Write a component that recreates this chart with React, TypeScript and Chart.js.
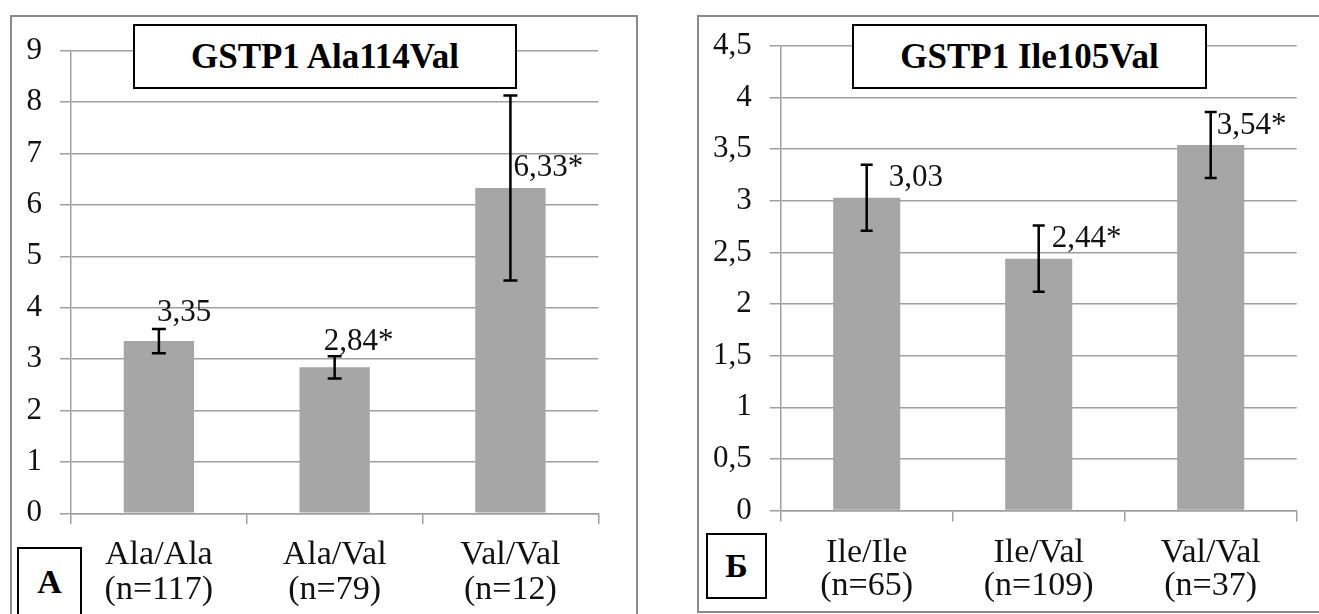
import React, { useEffect, useRef } from 'react';
import { Chart, registerables } from 'chart.js';

Chart.register(...registerables);

const FONT = "'Liberation Serif'";
Chart.defaults.font.family = FONT;

// ---- Data: panel A (GSTP1 Ala114Val) ----
const titleA = 'GSTP1 Ala114Val';
const letterA = 'А';
const categoriesA = [['Ala/Ala', '(n=117)'], ['Ala/Val', '(n=79)'], ['Val/Val', '(n=12)']];
const valuesA = [3.35, 2.84, 6.33];
const errorsA = [0.235, 0.215, 1.8];
const valueLabelsA = ['3,35', '2,84*', '6,33*'];
const yMaxA = 9;
const yStepA = 1;

// ---- Data: panel Б (GSTP1 Ile105Val) ----
const titleB = 'GSTP1 Ile105Val';
const letterB = 'Б';
const categoriesB = [['Ile/Ile', '(n=65)'], ['Ile/Val', '(n=109)'], ['Val/Val', '(n=37)']];
const valuesB = [3.03, 2.44, 3.54];
const errorsB = [0.32, 0.32, 0.32];
const valueLabelsB = ['3,03', '2,44*', '3,54*'];
const yMaxB = 4.5;
const yStepB = 0.5;

const GRID = '#a0a0a0';
const BAR = '#a6a6a6';

const extrasPlugin = {
  id: 'barExtras',
  afterDatasetsDraw(chart: any, _args: any, opts: any) {
    const meta = chart.getDatasetMeta(0);
    const ys = chart.scales.y;
    const ctx = chart.ctx;
    ctx.save();
    meta.data.forEach((bar: any, i: number) => {
      const v = opts.values[i];
      const e = opts.errors[i];
      const x = bar.x;
      const yt = ys.getPixelForValue(v + e);
      const yb = ys.getPixelForValue(v - e);
      ctx.fillStyle = '#111';
      ctx.font = `31px ${FONT}`;
      ctx.textAlign = 'left';
      ctx.textBaseline = 'alphabetic';
      ctx.fillText(opts.labels[i], x + opts.dx[i], bar.y - opts.dy[i]);
      const cap = opts.cap;
      ctx.strokeStyle = '#000';
      ctx.lineWidth = 2.5;
      ctx.beginPath();
      ctx.moveTo(x, yt);
      ctx.lineTo(x, yb);
      ctx.moveTo(x - cap, yt);
      ctx.lineTo(x + cap, yt);
      ctx.moveTo(x - cap, yb);
      ctx.lineTo(x + cap, yb);
      ctx.stroke();
    });
    ctx.restore();
  },
};

type PanelProps = {
  categories: string[][];
  values: number[];
  errors: number[];
  labels: string[];
  yMax: number;
  yStep: number;
  width: number;
  height: number;
  padTop: number;
  padRight: number;
  yWidth: number;
  xHeight: number;
  barPct: number;
  xPad: number;
  lineHeight: number;
  dx: number[];
  dy: number[];
  cap: number;
};

function BarChart(p: PanelProps) {
  const ref = useRef<HTMLCanvasElement | null>(null);
  useEffect(() => {
    if (!ref.current) return;
    const chart = new Chart(ref.current, {
      type: 'bar',
      data: {
        labels: p.categories,
        datasets: [
          {
            data: p.values,
            backgroundColor: BAR,
            borderWidth: 0,
            barPercentage: p.barPct,
            categoryPercentage: 1,
          },
        ],
      },
      options: {
        animation: false,
        responsive: false,
        layout: { padding: { top: p.padTop, right: p.padRight, left: 0, bottom: 0 } },
        plugins: {
          legend: { display: false },
          tooltip: { enabled: false },
          barExtras: {
            values: p.values,
            errors: p.errors,
            labels: p.labels,
            dx: p.dx,
            dy: p.dy,
            cap: p.cap,
          },
        } as any,
        scales: {
          x: {
            offset: true,
            grid: {
              display: true,
              drawOnChartArea: false,
              drawTicks: true,
              tickLength: 11,
              offset: true,
              color: GRID,
              lineWidth: 1.5,
            },
            border: { display: true, color: GRID, width: 1.5 },
            ticks: {
              color: '#111',
              font: { family: FONT, size: 34, lineHeight: p.lineHeight },
              padding: p.xPad,
              maxRotation: 0,
              autoSkip: false,
            },
            afterFit: (s: any) => {
              s.height = p.xHeight;
            },
          },
          y: {
            min: 0,
            max: p.yMax,
            ticks: {
              stepSize: p.yStep,
              color: '#111',
              font: { family: FONT, size: 31 },
              padding: 18,
              callback: (v: any) => String(v).replace('.', ','),
            },
            grid: { color: GRID, lineWidth: 1.5, tickLength: 11, drawTicks: true },
            border: { display: true, color: GRID, width: 1.5 },
            afterFit: (s: any) => {
              s.width = p.yWidth;
            },
          },
        },
      } as any,
      plugins: [extrasPlugin as any],
    });
    return () => chart.destroy();
  }, []);
  return <canvas ref={ref} width={p.width} height={p.height} style={{ width: p.width, height: p.height, display: 'block' }} />;
}

const abs = (l: number, t: number, w: number, h: number): React.CSSProperties => ({
  position: 'absolute',
  left: l,
  top: t,
  width: w,
  height: h,
  boxSizing: 'border-box',
});

const boxText: React.CSSProperties = {
  display: 'flex',
  alignItems: 'center',
  justifyContent: 'center',
  fontFamily: '"Liberation Serif"',
  fontWeight: 'bold',
  color: '#000',
  background: '#fff',
  border: '2px solid #000',
};

export default function App() {
  return (
    <div style={{ position: 'fixed', left: 0, top: 0, width: 1319, height: 614, background: '#fff', overflow: 'hidden', fontFamily: '"Liberation Serif"' }}>
      <div style={{ ...abs(10, 15, 628, 612), border: '2px solid #8a8a8a' }} />
      <div style={{ ...abs(697, 15, 630, 598), border: '2px solid #8a8a8a' }} />

      <div style={{ position: 'absolute', left: 0, top: 0 }}>
        <BarChart
          categories={categoriesA}
          values={valuesA}
          errors={errorsA}
          labels={valueLabelsA}
          yMax={yMaxA}
          yStep={yStepA}
          width={640}
          height={614}
          padTop={50.7}
          padRight={41.7}
          yWidth={71}
          xHeight={100.7}
          barPct={0.4}
          xPad={13.5}
          lineHeight={1.03}
          dx={[-2, -11, 3]}
          dy={[20, 17, 12]}
          cap={7}
        />
      </div>

      <div style={{ position: 'absolute', left: 690, top: 0 }}>
        <BarChart
          categories={categoriesB}
          values={valuesB}
          errors={errorsB}
          labels={valueLabelsB}
          yMax={yMaxB}
          yStep={yStepB}
          width={629}
          height={614}
          padTop={46}
          padRight={22.3}
          yWidth={90.7}
          xHeight={103.5}
          barPct={0.39}
          xPad={15}
          lineHeight={0.98}
          dx={[22, 13, 6]}
          dy={[12, 12, 11]}
          cap={6}
        />
      </div>

      <div style={{ ...abs(133, 24, 384, 65), ...boxText, fontSize: 35 }}>{titleA}</div>
      <div style={{ ...abs(852, 24, 355, 65), ...boxText, fontSize: 35 }}>{titleB}</div>

      <div style={{ ...abs(17, 547, 65, 70), ...boxText, fontSize: 34 }}>{letterA}</div>
      <div style={{ ...abs(706, 533, 61, 66), ...boxText, fontSize: 34 }}>{letterB}</div>
    </div>
  );
}
